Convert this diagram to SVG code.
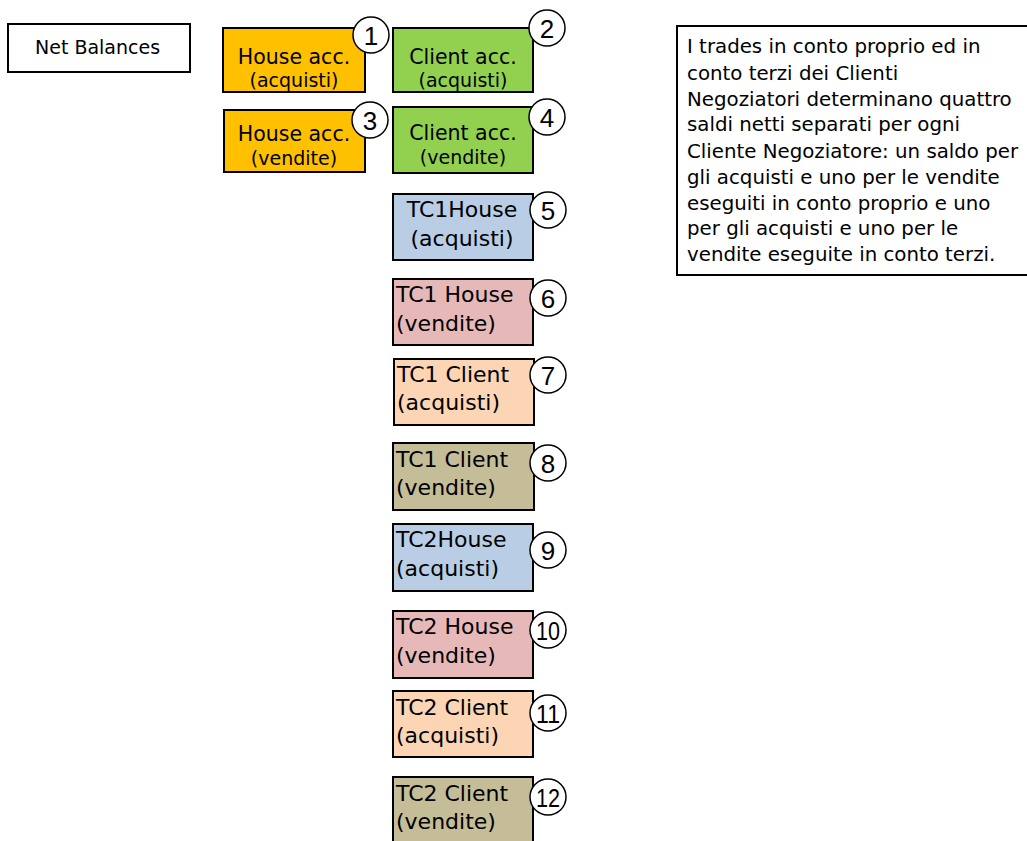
<svg xmlns="http://www.w3.org/2000/svg" width="1027" height="841" viewBox="0 0 1027 841">
<style>
text{font-family:"DejaVu Sans","Liberation Sans",sans-serif;fill:#000}
.b{stroke:#000;stroke-width:2}
.t{font-size:19px}
.h{font-size:20.5px}
.s{font-size:19.8px}
.tc{font-size:22px}
.c{fill:#fff;stroke:#000;stroke-width:1.5}
.n{font-family:"Liberation Sans",Arial,sans-serif;font-size:26px;text-anchor:middle}
.m{text-anchor:middle}
</style>
<rect width="1027" height="841" fill="#fff"/>
<g id="title"><rect class="b" x="8" y="24" width="182" height="48" fill="#fff"/><text class="t" x="35" y="54">Net Balances</text></g>
<g id="n1"><rect class="b" x="223" y="28" width="142" height="64" fill="#FFC000"/><text class="h m" x="294" y="64">House acc.</text><text class="t m" x="294" y="87">(acquisti)</text><circle class="c" cx="371" cy="35" r="18"/><text class="n" x="371" y="45">1</text></g>
<g id="n2"><rect class="b" x="393" y="28" width="140" height="64" fill="#92D050"/><text class="h m" x="463" y="64">Client acc.</text><text class="t m" x="463" y="87">(acquisti)</text><circle class="c" cx="547" cy="28" r="18"/><text class="n" x="547" y="38">2</text></g>
<g id="n3"><rect class="b" x="224" y="110" width="141" height="62" fill="#FFC000"/><text class="h m" x="294" y="141">House acc.</text><text class="t m" x="294" y="165">(vendite)</text><circle class="c" cx="370" cy="120" r="18"/><text class="n" x="370" y="130">3</text></g>
<g id="n4"><rect class="b" x="393" y="107" width="140" height="66" fill="#92D050"/><text class="h m" x="463" y="140">Client acc.</text><text class="t m" x="463" y="164">(vendite)</text><circle class="c" cx="547" cy="117" r="18"/><text class="n" x="547" y="127">4</text></g>
<g id="n5"><rect class="b" x="393" y="194" width="140" height="66" fill="#B9CDE5"/><text class="tc m" x="462" y="217">TC1House</text><text class="tc m" x="462" y="246">(acquisti)</text><circle class="c" cx="548" cy="210" r="18"/><text class="n" x="548" y="220">5</text></g>
<g id="n6"><rect class="b" x="393" y="279" width="140" height="66" fill="#E6B9B8"/><text class="tc" x="396" y="302">TC1 House</text><text class="tc" x="396" y="331">(vendite)</text><circle class="c" cx="548" cy="298" r="18"/><text class="n" x="548" y="308">6</text></g>
<g id="n7"><rect class="b" x="394" y="359" width="140" height="66" fill="#FCD5B5"/><text class="tc" x="397" y="382">TC1 Client</text><text class="tc" x="397" y="410">(acquisti)</text><circle class="c" cx="548" cy="375" r="18"/><text class="n" x="548" y="385">7</text></g>
<g id="n8"><rect class="b" x="393" y="443" width="141" height="67" fill="#C4BD97"/><text class="tc" x="396" y="467">TC1 Client</text><text class="tc" x="396" y="495">(vendite)</text><circle class="c" cx="548" cy="463" r="18"/><text class="n" x="548" y="473">8</text></g>
<g id="n9"><rect class="b" x="393" y="524" width="140" height="67" fill="#B9CDE5"/><text class="tc" x="396" y="547">TC2House</text><text class="tc" x="396" y="576">(acquisti)</text><circle class="c" cx="548" cy="550" r="18"/><text class="n" x="548" y="560">9</text></g>
<g id="n10"><rect class="b" x="393" y="611" width="140" height="67" fill="#E6B9B8"/><text class="tc" x="396" y="634">TC2 House</text><text class="tc" x="396" y="663">(vendite)</text><circle class="c" cx="548" cy="630" r="18"/><text class="n" x="548" y="640" textLength="24" lengthAdjust="spacingAndGlyphs">10</text></g>
<g id="n11"><rect class="b" x="393" y="691" width="140" height="66" fill="#FCD5B5"/><text class="tc" x="396" y="715">TC2 Client</text><text class="tc" x="396" y="743">(acquisti)</text><circle class="c" cx="548" cy="713" r="18"/><text class="n" x="548" y="723" textLength="24" lengthAdjust="spacingAndGlyphs">11</text></g>
<g id="n12"><rect class="b" x="393" y="777" width="140" height="70" fill="#C4BD97"/><text class="tc" x="396" y="801">TC2 Client</text><text class="tc" x="396" y="829">(vendite)</text><circle class="c" cx="548" cy="797" r="18"/><text class="n" x="548" y="807" textLength="24" lengthAdjust="spacingAndGlyphs">12</text></g>
<g id="note"><rect class="b" x="677" y="26" width="352" height="249" fill="#fff"/>
<text class="s" x="687"><tspan x="687" y="53">I trades in conto proprio ed in</tspan><tspan x="687" y="80">conto terzi dei Clienti</tspan><tspan x="687" y="106">Negoziatori determinano quattro</tspan><tspan x="687" y="131">saldi netti separati per ogni</tspan><tspan x="687" y="158">Cliente Negoziatore: un saldo per</tspan><tspan x="687" y="184">gli acquisti e uno per le vendite</tspan><tspan x="687" y="210">eseguiti in conto proprio e uno</tspan><tspan x="687" y="235">per gli acquisti e uno per le</tspan><tspan x="687" y="261">vendite eseguite in conto terzi.</tspan></text></g>
<g id="connectors"/>
</svg>
